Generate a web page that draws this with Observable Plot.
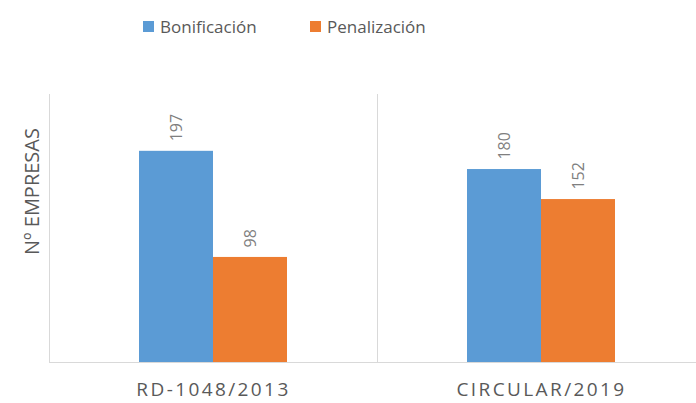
<!DOCTYPE html>
<html><head><meta charset="utf-8">
<script src="https://cdn.jsdelivr.net/npm/d3@7"></script>
<script src="https://cdn.jsdelivr.net/npm/@observablehq/plot@0.6"></script>
<style>
body{margin:0;background:#fff;font-family:"Open Sans",sans-serif;}
#legend{height:56px;position:relative;width:696px;}
.item{position:absolute;top:15px;display:flex;align-items:center;font-size:17px;color:#595959;}
.sw{width:11px;height:11px;margin-right:6px;}
#chart svg [aria-label="fx-axis tick label"] text{letter-spacing:2.4px;}
</style></head><body>
<div id="legend"></div><div id="chart"></div>
<script>
const categories = ["RD-1048/2013", "CIRCULAR/2019"];
const series = ["Bonificación", "Penalización"];
const bonificacion = [197, 180];
const penalizacion = [98, 152];
const colors = ["#5b9bd5", "#ed7d31"];
const yLabel = "Nº EMPRESAS";

const data = categories.flatMap((c, i) => [
  {category: c, series: series[0], value: bonificacion[i]},
  {category: c, series: series[1], value: penalizacion[i]}
]);

// legend
const legend = document.getElementById("legend");
const legendLeft = [143, 310];
series.forEach((s, i) => {
  const it = document.createElement("div");
  it.className = "item";
  it.style.left = legendLeft[i] + "px";
  const sw = document.createElement("span");
  sw.className = "sw";
  sw.style.background = colors[i];
  it.appendChild(sw);
  it.appendChild(document.createTextNode(s));
  legend.appendChild(it);
});

const plot = Plot.plot({
  width: 696, height: 347,
  marginTop: 38, marginBottom: 41, marginLeft: 49, marginRight: 0,
  style: {fontFamily: "Open Sans, sans-serif", color: "#595959", background: "#fff"},
  fx: {domain: categories, range: [49, 705], padding: 0, label: null},
  x: {domain: series, paddingInner: 0, paddingOuter: 1.187, axis: null},
  y: {domain: [0, 250], axis: null},
  color: {domain: series, range: colors},
  marks: [
    Plot.frame({anchor: "left", stroke: "#d9d9d9"}),
    Plot.ruleY([0], {stroke: "#d9d9d9"}),
    Plot.barY(data, {fx: "category", x: "series", y: "value", fill: "series"}),
    Plot.text(data, {fx: "category", x: "series", y: "value", text: d => String(d.value),
      rotate: -90, textAnchor: "start", dy: -10, fill: "#7f7f7f", fontSize: 16}),
    Plot.axisFx({anchor: "bottom", tickSize: 0, tickPadding: 20, fontSize: 19, label: null, fill: "#595959"}),
    Plot.text([yLabel], {fx: () => categories[0], frameAnchor: "top-left", dx: -25, dy: 97,
      rotate: -90, textAnchor: "middle", fontSize: 20, fill: "#595959"})
  ]
});
document.getElementById("chart").appendChild(plot);
</script>
</body></html>
